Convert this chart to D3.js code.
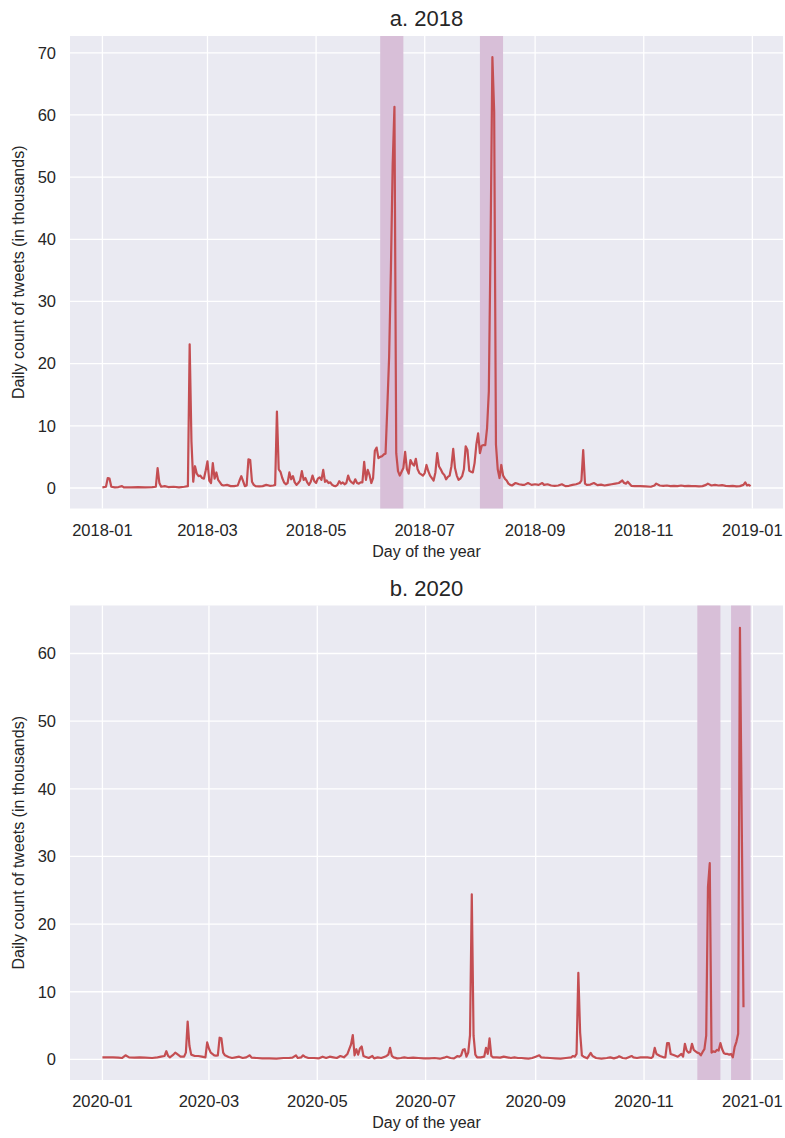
<!DOCTYPE html>
<html>
<head>
<meta charset="utf-8">
<script src="https://cdn.jsdelivr.net/npm/d3@7"></script>
<style>
  html, body { margin: 0; padding: 0; background: #ffffff; }
  svg { display: block; }
  text { font-family: "Liberation Sans", Arial, "DejaVu Sans", sans-serif; fill: #262626; }
</style>
</head>
<body>
<svg id="chart" width="785" height="1138"></svg>
<script>
// ---------------- DATA ----------------
// Panel titles
const titles = ["a. 2018", "b. 2020"];
const years = [2018, 2020];

// 2018: day of year (0 = Jan 1) and daily tweet count (thousands)
const days2018 = [0,2,3,4,5,7,9,11,12,16,20,24,28,30,31,32,33,35,37,40,43,46,48,49,50,51,52,53,54,55,56,57,58,59,60,61,62,63,64,65,66,67,68,70,72,74,76,77,78,79,80,81,82,83,84,85,86,88,90,92,94,96,97,98,99,100,101,102,103,104,105,106,107,108,109,110,111,112,113,114,115,116,117,118,119,120,121,122,123,124,125,126,127,128,129,130,131,132,133,134,135,136,137,138,139,140,141,142,143,144,145,146,147,148,149,150,151,152,153,154,155,156,157,158,159,160,161,162,163,164,165,166,167,168,169,170,171,172,173,174,175,176,177,178,179,180,181,182,183,184,185,186,187,188,189,190,191,192,193,194,195,196,197,198,199,200,201,202,203,204,205,206,207,208,209,210,211,212,213,214,215,216,217,218,219,220,221,222,223,224,225,226,227,228,229,230,231,232,234,236,237,239,241,243,245,247,248,250,252,254,256,258,260,262,264,266,268,269,270,271,272,274,276,278,280,282,284,286,288,290,292,293,294,295,297,299,302,305,308,310,311,313,315,317,319,321,323,325,327,329,331,333,335,337,339,340,342,344,346,348,350,352,354,356,358,360,361,362,363,364];
const values2018 = [0.1,0.2,1.6,1.5,0.2,0.1,0.15,0.3,0.1,0.1,0.15,0.1,0.15,0.2,3.2,0.8,0.2,0.3,0.15,0.2,0.1,0.2,0.3,23.1,7.5,1.0,3.5,2.3,1.9,2.0,1.6,1.5,2.8,4.3,1.2,0.8,4.0,1.5,2.5,1.3,0.9,0.5,0.4,0.5,0.3,0.3,0.4,1.2,1.9,1.1,0.3,0.4,4.6,4.5,1.0,0.5,0.3,0.25,0.3,0.5,0.35,0.4,0.5,12.3,3.0,2.6,1.6,0.9,0.6,0.8,2.5,1.4,1.9,0.9,0.5,0.8,1.2,2.7,1.3,1.6,0.9,0.5,1.0,2.0,1.1,0.8,1.5,1.7,1.3,2.9,1.0,1.2,0.8,0.9,0.5,0.35,0.3,0.5,1.1,0.7,0.9,0.6,0.8,2.0,1.2,0.9,0.7,1.4,0.8,0.7,0.9,0.9,4.2,1.3,2.9,2.1,0.8,1.6,6.0,6.5,4.8,5.0,5.1,5.4,5.5,13.0,21.0,35.0,52.0,61.3,5.6,2.7,2.0,2.6,3.2,5.8,3.0,2.3,4.5,3.9,3.6,4.7,3.0,2.4,2.2,2.0,2.4,3.7,2.7,2.0,1.6,1.2,2.5,5.6,3.5,3.0,2.4,2.1,1.4,1.8,2.0,3.5,6.3,3.2,2.0,1.3,1.5,1.9,3.0,6.7,6.1,2.8,2.6,2.5,4.0,7.0,8.8,5.6,6.8,6.9,6.9,9.6,15.5,40.0,69.3,60.5,7.0,3.0,1.6,3.7,2.0,1.5,1.2,0.7,0.5,0.4,0.6,0.8,0.6,0.5,0.5,0.8,0.5,0.6,0.5,0.8,0.5,0.6,0.4,0.35,0.4,0.6,0.3,0.35,0.5,0.6,0.8,1.2,6.1,0.7,0.5,0.55,0.8,0.45,0.55,0.4,0.5,0.6,0.7,0.8,1.2,0.8,0.7,1.0,0.35,0.3,0.3,0.25,0.2,0.4,0.7,0.4,0.35,0.4,0.3,0.35,0.3,0.4,0.3,0.35,0.3,0.3,0.25,0.3,0.5,0.7,0.4,0.5,0.4,0.45,0.35,0.3,0.35,0.25,0.3,0.5,0.9,0.4,0.5,0.3];

// 2020: day of year (0 = Jan 1) and daily tweet count (thousands)
const days2020 = [0,3,6,9,11,13,15,18,21,24,28,31,33,35,36,37,38,40,41,42,44,46,47,48,49,50,52,54,56,58,59,60,61,63,64,65,66,67,68,69,71,73,75,77,79,81,83,84,87,90,94,98,102,105,107,109,110,112,113,114,116,119,122,124,126,128,130,132,134,136,138,139,140,141,142,143,144,145,146,147,148,150,152,153,155,157,159,160,161,162,163,164,166,168,170,172,175,178,181,184,187,190,193,194,196,198,200,201,202,203,204,205,206,207,208,209,210,211,213,215,216,217,218,219,220,222,224,226,228,230,232,234,236,238,240,242,244,246,247,249,252,255,258,261,264,265,266,267,268,269,270,271,273,275,276,278,281,284,286,288,290,291,293,295,298,299,301,303,305,307,309,310,311,312,314,316,317,318,319,320,322,324,325,326,327,328,329,330,331,332,333,334,335,336,337,338,339,340,341,342,343,344,345,346,347,348,349,350,351,352,353,354,355,356,357,358,359,361,362];
const values2020 = [0.3,0.3,0.3,0.25,0.2,0.6,0.3,0.25,0.3,0.25,0.2,0.3,0.4,0.5,1.2,0.5,0.3,0.7,1.0,0.8,0.4,0.4,1.0,5.6,2.0,0.7,0.5,0.5,0.4,0.3,2.5,1.6,1.0,0.6,0.55,0.6,3.2,3.1,1.0,0.6,0.35,0.2,0.3,0.4,0.2,0.3,0.6,0.25,0.2,0.15,0.15,0.1,0.2,0.2,0.25,0.6,0.2,0.3,0.6,0.4,0.2,0.2,0.15,0.4,0.2,0.4,0.3,0.2,0.5,0.3,0.8,1.5,2.2,3.6,0.6,1.5,0.7,1.6,1.9,0.5,0.4,0.2,0.5,0.15,0.3,0.2,0.4,0.5,0.7,1.7,0.5,0.3,0.15,0.2,0.3,0.2,0.25,0.2,0.15,0.15,0.2,0.1,0.3,0.4,0.2,0.15,0.5,0.4,0.6,1.4,1.5,0.4,1.0,3.6,24.4,3.5,0.7,0.3,0.3,0.4,1.7,0.8,3.1,0.5,0.3,0.3,0.25,0.4,0.3,0.2,0.3,0.2,0.2,0.15,0.1,0.2,0.4,0.6,0.3,0.25,0.2,0.15,0.1,0.2,0.3,0.5,0.4,0.8,12.8,4.0,0.6,0.4,0.15,0.95,0.5,0.2,0.1,0.2,0.3,0.15,0.3,0.45,0.2,0.15,0.5,0.3,0.2,0.3,0.3,0.3,0.2,0.4,1.7,0.8,0.5,0.3,0.3,2.4,2.4,0.8,0.6,0.4,0.6,0.8,0.4,2.3,1.3,1.0,1.1,2.3,1.4,1.2,1.0,0.9,0.6,1.1,1.5,3.5,25.5,29.0,1.0,1.2,1.1,1.4,1.3,2.4,1.5,0.9,0.8,0.8,0.7,0.8,0.3,1.8,2.6,3.8,63.8,7.7];

// Highlighted periods [start, end]
const spans2018 = [["2018-06-06", "2018-06-19"], ["2018-08-01", "2018-08-14"]];
const spans2020 = [["2020-12-01", "2020-12-14"], ["2020-12-20", "2020-12-31"]];

// Axis ticks
const yTicks2018 = [0, 10, 20, 30, 40, 50, 60, 70];
const yTicks2020 = [0, 10, 20, 30, 40, 50, 60];
const xTicks2018 = ["2018-01-01", "2018-03-01", "2018-05-01", "2018-07-01", "2018-09-01", "2018-11-01", "2019-01-01"];
const xTicks2020 = ["2020-01-01", "2020-03-01", "2020-05-01", "2020-07-01", "2020-09-01", "2020-11-01", "2021-01-01"];
const yDomain2018 = [-3.3, 72.7];
const yDomain2020 = [-3.05, 67.1];
const xLimits2018 = ["2018-01-01", "2018-12-31"];
const xLimits2020 = ["2020-01-01", "2020-12-31"];

const xLabel = "Day of the year";
const yLabel = "Daily count of tweets (in thousands)";

// ---------------- DRAWING ----------------
const svg = d3.select("#chart");
const parse = d3.timeParse("%Y-%m-%d");
const fmt = d3.timeFormat("%Y-%m");

const panels = [
  { title: titles[0], year: years[0], days: days2018, values: values2018, spans: spans2018,
    yTicks: yTicks2018, xTicks: xTicks2018, yDomain: yDomain2018, xLim: xLimits2018, top: 36, bottom: 508.5 },
  { title: titles[1], year: years[1], days: days2020, values: values2020, spans: spans2020,
    yTicks: yTicks2020, xTicks: xTicks2020, yDomain: yDomain2020, xLim: xLimits2020, top: 605.5, bottom: 1080 }
];

const left = 70, right = 783;

panels.forEach(p => {
  const g = svg.append("g");
  const x0 = parse(p.xLim[0]).getTime(), x1 = parse(p.xLim[1]).getTime();
  const pad = (x1 - x0) * 0.05;
  const x = d3.scaleTime().domain([new Date(x0 - pad), new Date(x1 + pad)]).range([left, right]);
  const y = d3.scaleLinear().domain(p.yDomain).range([p.bottom, p.top]);

  // background
  g.append("rect").attr("x", left).attr("y", p.top).attr("width", right - left)
    .attr("height", p.bottom - p.top).attr("fill", "#EAEAF2");

  // grid
  g.selectAll(".hg").data(p.yTicks).enter().append("line")
    .attr("x1", left).attr("x2", right)
    .attr("y1", d => y(d)).attr("y2", d => y(d))
    .attr("stroke", "#ffffff").attr("stroke-width", 1.3);
  g.selectAll(".vg").data(p.xTicks).enter().append("line")
    .attr("x1", d => x(parse(d))).attr("x2", d => x(parse(d)))
    .attr("y1", p.top).attr("y2", p.bottom)
    .attr("stroke", "#ffffff").attr("stroke-width", 1.3);

  // spans
  g.selectAll(".span").data(p.spans).enter().append("rect")
    .attr("x", d => x(parse(d[0])))
    .attr("width", d => x(parse(d[1])) - x(parse(d[0])))
    .attr("y", p.top).attr("height", p.bottom - p.top)
    .attr("fill", "#D8BFD8");

  // line
  const pts = p.days.map((d, i) => ({ date: new Date(p.year, 0, 1 + d), v: p.values[i] }));
  g.append("path").datum(pts)
    .attr("d", d3.line().x(d => x(d.date)).y(d => y(d.v)))
    .attr("fill", "none").attr("stroke", "#C44E52").attr("stroke-width", 2.2)
    .attr("stroke-linejoin", "round").attr("stroke-linecap", "butt");

  // y tick labels
  g.selectAll(".yl").data(p.yTicks).enter().append("text")
    .attr("x", 56).attr("y", d => y(d)).attr("dy", "0.35em")
    .attr("text-anchor", "end").style("font-size", "16.5px").text(d => d);

  // x tick labels
  g.selectAll(".xl").data(p.xTicks).enter().append("text")
    .attr("x", d => x(parse(d))).attr("y", p.bottom + 27)
    .attr("text-anchor", "middle").style("font-size", "16.5px").text(d => fmt(parse(d)));

  // x label
  g.append("text").attr("x", (left + right) / 2).attr("y", p.bottom + 48)
    .attr("text-anchor", "middle").style("font-size", "16px").text(xLabel);

  // y label
  g.append("text")
    .attr("transform", `translate(24,${(p.top + p.bottom) / 2}) rotate(-90)`)
    .attr("text-anchor", "middle").style("font-size", "16px").text(yLabel);

  // title
  g.append("text").attr("x", (left + right) / 2).attr("y", p.top - 10)
    .attr("text-anchor", "middle").style("font-size", "22px").text(p.title);
});
</script>
</body>
</html>
